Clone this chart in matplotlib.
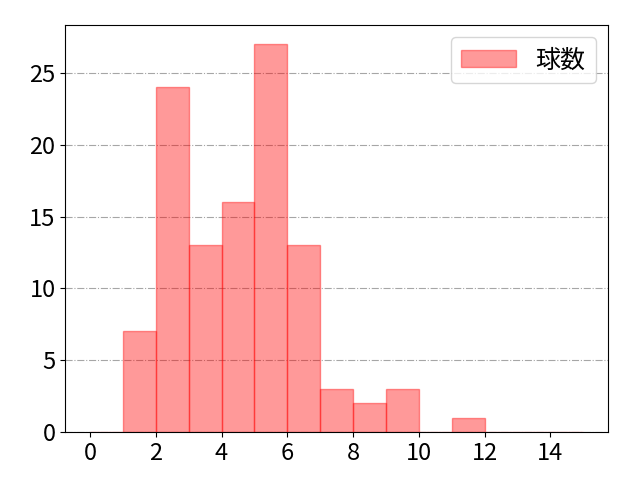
import numpy as np
import matplotlib
matplotlib.use("Agg")
import matplotlib.pyplot as plt

plt.rcParams['font.family'] = ['Noto Sans CJK JP', 'DejaVu Sans']

# bin edges (pitch count buckets) and counts per bin
edges = [0, 1, 2, 3, 4, 5, 6, 7, 8, 9, 10, 11, 12, 13, 14, 15]
counts = [0, 7, 24, 13, 16, 27, 13, 3, 2, 3, 0, 1, 0, 0, 0]
label = "球数"

fig, ax = plt.subplots(figsize=(6.4, 4.8), dpi=100)
ax.hist(edges[:-1], bins=edges, weights=counts, color='red', alpha=0.4,
        edgecolor='red', linewidth=1, label=label)
ax.grid(axis='y', linestyle='-.', color='gray', alpha=0.7)
ax.set_axisbelow(True)
ax.set_xticks([0, 2, 4, 6, 8, 10, 12, 14])
ax.tick_params(labelsize=17)
ax.legend(loc='upper right', fontsize=18, handlelength=2.2)
fig.subplots_adjust(left=0.102, right=0.95, top=0.948, bottom=0.1)
fig.savefig("out.png")
